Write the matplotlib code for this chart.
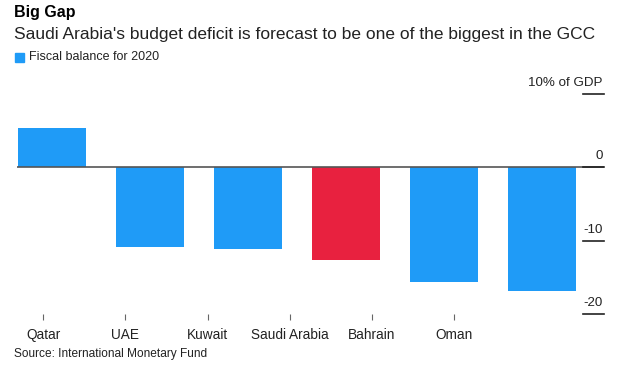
import numpy as np
import matplotlib.pyplot as plt
from matplotlib.patches import Rectangle
import matplotlib.transforms as mtransforms

plt.rcParams.update({'font.family': ['Liberation Sans', 'DejaVu Sans']})

# Datos
paises = ['Qatar', 'UAE', 'Kuwait', 'Saudi Arabia', 'Bahrain', 'Oman']
balance = [5.3, -10.9, -11.2, -12.6, -15.6, -16.8]
destacado = 'Saudi Arabia'
yticks = [10, 0, -10, -20]
ytick_labels = ['10% of GDP', '0', '-10', '-20']

azul = '#1f9bf7'
rojo = '#e8213f'

fig = plt.figure(figsize=(6.24, 3.72), dpi=100)
ax = fig.add_axes([17/624, 1 - 314/372, 587/624, 220/372])

x = np.arange(len(paises))
colores = [rojo if p == destacado else azul for p in paises]
ax.bar(x, balance, width=0.7, color=colores, zorder=2)
ax.axhline(0, color='#555555', lw=1.2, zorder=3)

ax.set_xlim(-0.357, 5.633)
ax.set_ylim(-20, 10)

# eje x: etiquetas algo desplazadas respecto a las barras, como en el original
ax.set_xticks(-0.089 + 0.838 * x)
ax.set_xticklabels(paises, fontsize=9.8, color='#222222')
ax.tick_params(axis='x', length=4, width=0.8, color='#666666', pad=6)
ax.set_yticks([])
for s in ax.spines.values():
    s.set_visible(False)

# eje y a la derecha: rayitas cortas con la etiqueta encima
trans = mtransforms.blended_transform_factory(ax.transAxes, ax.transData)
for v, lab in zip(yticks, ytick_labels):
    ax.plot([0.964, 1.0], [v, v], color='#222222', lw=1.2, transform=trans,
            clip_on=False, zorder=4)
    ax.annotate(lab, xy=(1.0, v), xycoords=trans, xytext=(-1, 3.5),
                textcoords='offset points', ha='right', va='bottom', fontsize=9.6,
                color='#222222')

fig.text(14/624, 1 - 12/372, 'Big Gap', fontsize=11.5, fontweight='bold', va='center')
fig.text(14/624, 1 - 34/372,
         "Saudi Arabia's budget deficit is forecast to be one of the biggest in the GCC",
         fontsize=12.5, va='center', color='#222222')
fig.add_artist(Rectangle((15/624, 1 - 62/372), 9/624, 9/372, color=azul,
                         transform=fig.transFigure))
fig.text(29/624, 1 - 57/372, 'Fiscal balance for 2020', fontsize=9, va='center',
         color='#222222')
fig.text(14/624, 1 - 354/372, 'Source: International Monetary Fund', fontsize=8.6,
         va='center', color='#222222')

fig.savefig('out.png', dpi=100)
